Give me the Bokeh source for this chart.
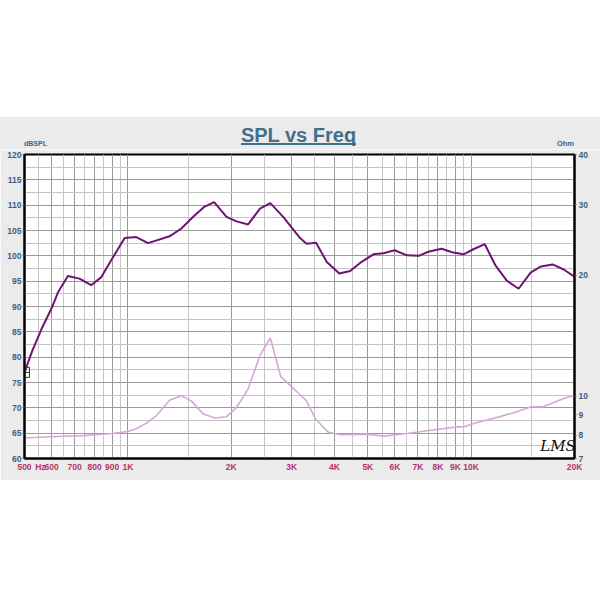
from bokeh.plotting import figure
from bokeh.models import (Range1d, LogScale, LogAxis, FixedTicker, Label,
                          Spacer, ColumnDataSource, Div)
from bokeh.layouts import column
from bokeh.embed import file_html
from bokeh.resources import INLINE

# ---------------- data ----------------
spl_freq = [500, 527, 560, 600, 626, 669, 723, 782, 837, 905, 979, 1058, 1145, 1323,
            1432, 1550, 1664, 1784, 1938, 2073, 2240, 2426, 2600, 2835, 3175, 3315,
            3533, 3797, 4131, 4442, 4748, 5190, 5554, 5985, 6500, 7040, 7500, 8200,
            8800, 9500, 10150, 10960, 11770, 12700, 13750, 14900, 15970, 17270,
            18600, 20000]
spl_db = [77.0, 81.3, 85.5, 89.7, 92.8, 96.0, 95.5, 94.2, 95.8, 99.7, 103.5, 103.7,
          102.5, 103.85, 105.4, 107.7, 109.6, 110.6, 107.7, 106.8, 106.2, 109.3,
          110.4, 107.7, 103.5, 102.4, 102.6, 98.8, 96.5, 97.0, 98.6, 100.3, 100.5,
          101.1, 100.1, 100.0, 100.8, 101.4, 100.7, 100.3, 101.3, 102.3, 98.1, 95.1,
          93.5, 96.7, 97.9, 98.3, 97.3, 95.9]

imp_freq = [500, 590, 740, 897, 1000, 1058, 1130, 1210, 1323, 1432, 1530, 1660, 1795,
            1938, 2073, 2240, 2426, 2600, 2790, 3175, 3315, 3520, 3838, 4165, 4975,
            5554, 6500, 7950, 9100, 9500, 10150, 12140, 13860, 14900, 16160, 18600,
            20000]
imp_ohm = [7.87, 7.93, 7.98, 8.08, 8.17, 8.30, 8.56, 8.94, 9.78, 10.03, 9.74, 9.03,
           8.83, 8.89, 9.38, 10.43, 12.64, 13.97, 11.19, 10.09, 9.74, 8.78, 8.13,
           8.02, 8.05, 7.96, 8.08, 8.27, 8.39, 8.39, 8.56, 8.90, 9.20, 9.41, 9.41,
           9.87, 10.06]

x_ticks = [500, 556, 600, 700, 800, 900, 1000, 2000, 3000, 4000, 5000, 6000, 7000,
           8000, 9000, 10000, 20000]
x_tick_labels = ["500", "Hz", "600", "700", "800", "900", "1K", "2K", "3K", "4K", "5K",
                 "6K", "7K", "8K", "9K", "10K", "20K"]
x_grid_major = [500, 600, 700, 800, 900, 1000, 2000, 3000, 4000, 5000, 6000, 7000,
                8000, 9000, 10000, 20000]
x_minor = [550, 650, 750, 850, 950, 1500, 2500, 3500, 4500, 5500, 6500, 7500, 8500,
           9500, 15000]
db_ticks = [60, 65, 70, 75, 80, 85, 90, 95, 100, 105, 110, 115, 120]
db_minor = [62.5, 67.5, 72.5, 77.5, 82.5, 87.5, 92.5, 97.5, 102.5, 107.5, 112.5, 117.5]
ohm_ticks = [7, 8, 9, 10, 20, 30, 40]

cursor_freq = [500]
cursor_db = [77]

title_text = "SPL vs Freq"
left_caption = "dBSPL"
right_caption = "Ohm"

# ---------------- styling ----------------
BLUE = "#3d5f8a"
CRIMSON = "#b8336a"
TITLE_C = "#41708a"
PANEL = "#ebebeb"
FONT = "Liberation Sans"

header = Div(width=600, height=32, margin=0, text=(
    f'<div style="position:relative;width:600px;height:32px;background:{PANEL};'
    f'margin:0;padding:0;overflow:hidden;">'
    f'<span style="position:absolute;left:0;width:597px;top:8px;text-align:center;'
    f'line-height:20px;">'
    f'<span style="font-family:\'{FONT}\';font-weight:bold;font-size:20px;'
    f'color:{TITLE_C};border-bottom:2px solid {TITLE_C};line-height:20px;'
    f'display:inline-block;height:20px;">{title_text}</span></span>'
    f'<span style="position:absolute;left:24px;top:23px;font-family:\'{FONT}\';'
    f'font-weight:bold;font-size:7px;color:{BLUE};line-height:8px;">{left_caption}</span>'
    f'<span style="position:absolute;left:553px;width:21px;text-align:right;top:23px;'
    f'font-family:\'{FONT}\';font-weight:bold;font-size:7.5px;color:{BLUE};'
    f'line-height:8px;">{right_caption}</span>'
    f'</div>'))

p = figure(width=600, height=331, x_axis_type="log",
           x_range=Range1d(500, 20000), y_range=Range1d(60, 120),
           output_backend="svg", toolbar_location=None,
           min_border_left=24, min_border_right=26, min_border_top=5,
           min_border_bottom=22)
p.border_fill_color = PANEL
p.background_fill_color = "white"
p.outline_line_color = "black"
p.outline_line_width = 2

p.extra_y_ranges = {"ohm": Range1d(7, 40)}
p.extra_y_scales = {"ohm": LogScale()}

# x axis
xa = p.xaxis[0]
xa.ticker = FixedTicker(ticks=x_ticks)
xa.major_label_overrides = {t: l for t, l in zip(x_ticks, x_tick_labels)}
xa.major_tick_out = 0
xa.major_tick_in = 0
xa.minor_tick_out = 0
xa.minor_tick_in = 0
xa.major_label_standoff = 3
xa.major_label_text_font = FONT
xa.major_label_text_font_style = "bold"
xa.major_label_text_font_size = "8.5px"
xa.major_label_text_color = CRIMSON
xa.axis_line_color = "black"
xa.axis_line_width = 2

# left y axis
ya = p.yaxis[0]
ya.ticker = FixedTicker(ticks=db_ticks)
ya.major_tick_out = 2
ya.major_tick_in = 0
ya.minor_tick_out = 0
ya.minor_tick_in = 0
ya.major_label_standoff = 1
ya.major_label_text_font = FONT
ya.major_label_text_font_style = "bold"
ya.major_label_text_font_size = "8.5px"
ya.major_label_text_color = BLUE
ya.axis_line_color = "black"
ya.axis_line_width = 2
ya.major_tick_line_color = "#555555"

# right ohm axis
ra = LogAxis(y_range_name="ohm", ticker=FixedTicker(ticks=ohm_ticks))
ra.major_tick_out = 2
ra.major_tick_in = 0
ra.minor_tick_out = 0
ra.minor_tick_in = 0
ra.major_label_standoff = 2
ra.major_label_text_font = FONT
ra.major_label_text_font_style = "bold"
ra.major_label_text_font_size = "8.5px"
ra.major_label_text_color = BLUE
ra.axis_line_color = "black"
ra.axis_line_width = 2
ra.major_tick_line_color = "#555555"
p.add_layout(ra, "right")

# grids
p.xgrid.ticker = FixedTicker(ticks=x_grid_major, minor_ticks=x_minor)
p.xgrid.grid_line_color = "#9a9a9a"
p.xgrid.grid_line_alpha = 1
p.xgrid.minor_grid_line_color = "#c8c8c8"
p.ygrid.ticker = FixedTicker(ticks=db_ticks, minor_ticks=db_minor)
p.ygrid.grid_line_color = "#9a9a9a"
p.ygrid.minor_grid_line_color = "#c4c4c4"

# curves
imp_src = ColumnDataSource(dict(f=imp_freq, z=imp_ohm))
spl_src = ColumnDataSource(dict(f=spl_freq, db=spl_db))
p.line("f", "z", source=imp_src, y_range_name="ohm", line_color="#d6a8d6",
       line_width=1.6)
p.line("f", "db", source=spl_src, line_color="#6e1472", line_width=2)

# cursor marker
p.scatter(cursor_freq, cursor_db, marker="square_cross", size=10,
          fill_color=None, line_color="#333333", line_width=1)

# LMS logo
p.add_layout(Label(x=15900, y=60.6, text="LMS", text_align="left",
                   text_baseline="bottom", text_font="DejaVu Serif",
                   text_font_style="italic", text_font_size="15px",
                   text_color="#111111"))

layout = column(Spacer(width=600, height=117, margin=0), header, p)
open("out.html", "w").write(file_html(layout, INLINE))
